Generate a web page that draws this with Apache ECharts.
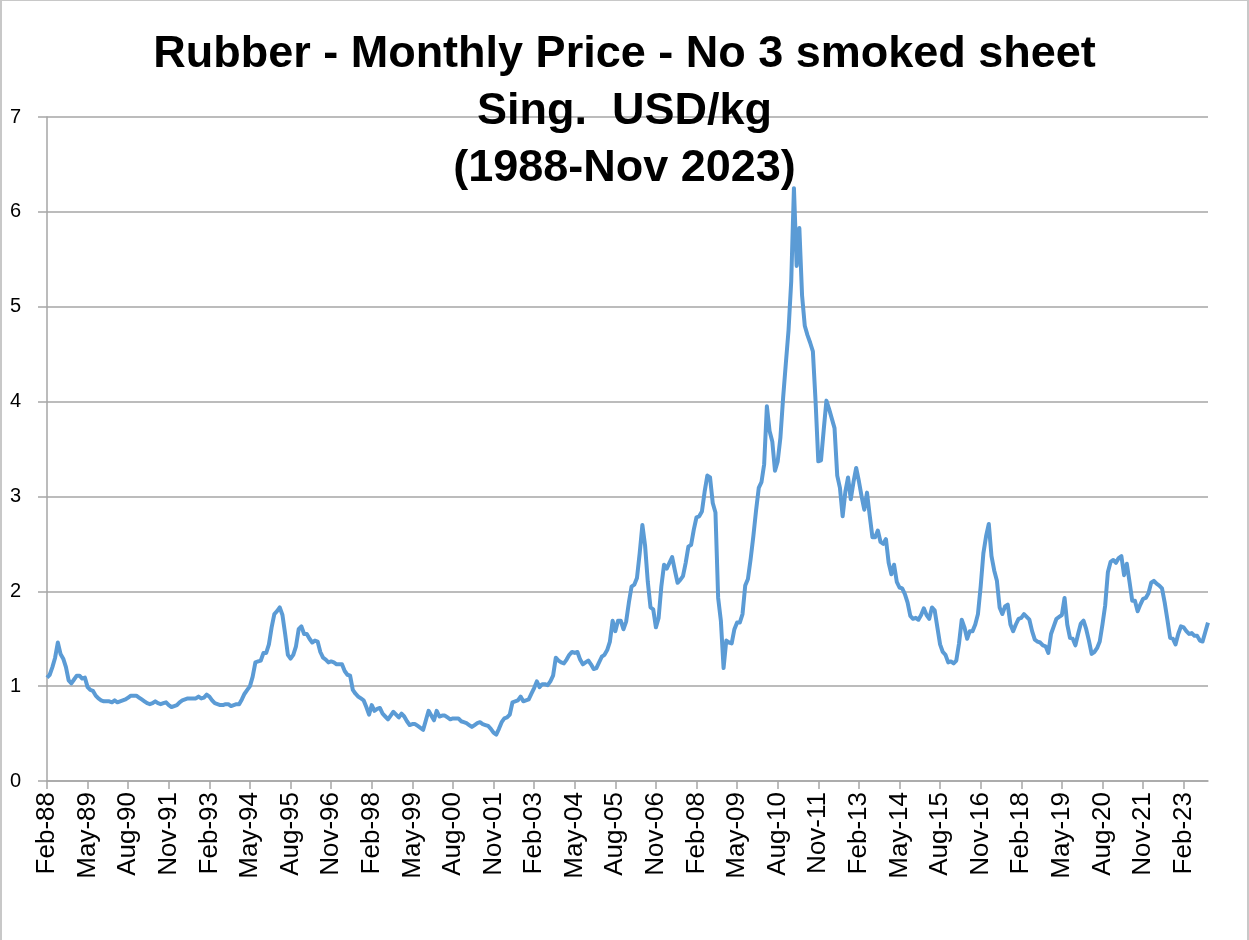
<!DOCTYPE html>
<html>
<head>
<meta charset="utf-8">
<title>Rubber - Monthly Price</title>
<script src="https://cdn.jsdelivr.net/npm/echarts@6/dist/echarts.min.js"></script>
<style>
  html, body { margin: 0; padding: 0; background: #fff; }
  #chart {
    width: 1249px; height: 940px; box-sizing: border-box;
    border-top: 1px solid #c8c8c8; border-left: 2px solid #c8c8c8; border-right: 2px solid #c8c8c8;
  }
</style>
</head>
<body>
<div id="chart"></div>
<script>
// Monthly RSS3 price, USD/kg, Feb-88 .. Nov-23
const price1988to1992 = [
  1.09, 1.12, 1.20, 1.30, 1.46, 1.34, 1.29, 1.20, 1.06, 1.03, 1.07, 1.11,
  1.11, 1.08, 1.09, 0.99, 0.96, 0.95, 0.90, 0.87, 0.85, 0.84, 0.84, 0.84,
  0.83, 0.85, 0.83, 0.84, 0.85, 0.86, 0.88, 0.90, 0.90, 0.90, 0.88, 0.86,
  0.84, 0.82, 0.81, 0.82, 0.84, 0.82, 0.81, 0.82, 0.83, 0.80, 0.78, 0.79,
  0.80, 0.83, 0.85, 0.86, 0.87, 0.87, 0.87, 0.87, 0.89, 0.87, 0.88, 0.91
];
const price1993to1997 = [
  0.89, 0.85, 0.82, 0.81, 0.80, 0.80, 0.81, 0.81, 0.79, 0.80, 0.81, 0.81,
  0.86, 0.92, 0.96, 1.00, 1.10, 1.25, 1.26, 1.27, 1.35, 1.35, 1.44, 1.62,
  1.76, 1.79, 1.83, 1.75, 1.55, 1.33, 1.29, 1.33, 1.42, 1.60, 1.63, 1.55,
  1.55, 1.50, 1.46, 1.48, 1.47, 1.36, 1.30, 1.28, 1.25, 1.26, 1.25, 1.23,
  1.23, 1.23, 1.16, 1.12, 1.11, 0.96, 0.92, 0.89, 0.87, 0.85, 0.78, 0.70
];
const price1998to2002 = [
  0.80, 0.74, 0.76, 0.77, 0.71, 0.68, 0.65, 0.69, 0.73, 0.70, 0.67, 0.71,
  0.68, 0.63, 0.59, 0.60, 0.60, 0.58, 0.56, 0.54, 0.64, 0.74, 0.69, 0.64,
  0.74, 0.68, 0.69, 0.69, 0.67, 0.65, 0.66, 0.66, 0.66, 0.63, 0.62, 0.61,
  0.59, 0.57, 0.59, 0.61, 0.62, 0.60, 0.59, 0.58, 0.55, 0.51, 0.49, 0.55,
  0.62, 0.66, 0.67, 0.70, 0.83, 0.84, 0.85, 0.89, 0.84, 0.85, 0.86, 0.92
];
const price2003to2007 = [
  0.98, 1.05, 0.99, 1.02, 1.02, 1.01, 1.05, 1.11, 1.30, 1.27, 1.25, 1.24,
  1.28, 1.33, 1.36, 1.35, 1.36, 1.28, 1.23, 1.25, 1.27, 1.23, 1.18, 1.19,
  1.25, 1.31, 1.33, 1.38, 1.47, 1.69, 1.58, 1.69, 1.69, 1.60, 1.68, 1.88,
  2.05, 2.07, 2.14, 2.40, 2.70, 2.48, 2.10, 1.83, 1.81, 1.62, 1.72, 2.05,
  2.28, 2.24, 2.30, 2.36, 2.22, 2.09, 2.12, 2.16, 2.30, 2.47, 2.49, 2.65
];
const price2008to2012 = [
  2.78, 2.79, 2.84, 3.05, 3.22, 3.20, 2.93, 2.83, 1.93, 1.69, 1.19, 1.48,
  1.46, 1.45, 1.60, 1.67, 1.67, 1.76, 2.06, 2.13, 2.34, 2.58, 2.85, 3.09,
  3.15, 3.34, 3.95, 3.69, 3.58, 3.27, 3.37, 3.62, 4.04, 4.40, 4.75, 5.27,
  6.25, 5.43, 5.83, 5.12, 4.80, 4.70, 4.62, 4.53, 4.00, 3.37, 3.38, 3.70,
  4.01, 3.92, 3.82, 3.72, 3.22, 3.09, 2.79, 3.05, 3.20, 2.97, 3.15, 3.30
];
const price2013to2017 = [
  3.16, 3.00, 2.86, 3.04, 2.80, 2.57, 2.57, 2.64, 2.52, 2.50, 2.55, 2.30,
  2.18, 2.28, 2.10, 2.04, 2.03, 1.97, 1.88, 1.74, 1.71, 1.72, 1.70, 1.75,
  1.82, 1.75, 1.71, 1.83, 1.80, 1.62, 1.44, 1.36, 1.33, 1.25, 1.26, 1.24,
  1.27, 1.45, 1.70, 1.62, 1.50, 1.58, 1.58, 1.65, 1.76, 2.05, 2.40, 2.58,
  2.71, 2.37, 2.22, 2.11, 1.83, 1.76, 1.84, 1.86, 1.65, 1.58, 1.65, 1.71
];
const price2018to2023 = [
  1.72, 1.76, 1.73, 1.70, 1.58, 1.49, 1.47, 1.46, 1.43, 1.42, 1.35, 1.55,
  1.63, 1.71, 1.73, 1.75, 1.93, 1.65, 1.51, 1.50, 1.43, 1.55, 1.66, 1.69,
  1.60, 1.48, 1.34, 1.36, 1.40, 1.47, 1.65, 1.85, 2.20, 2.31, 2.33, 2.30,
  2.35, 2.37, 2.17, 2.29, 2.10, 1.90, 1.90, 1.79, 1.86, 1.92, 1.93, 1.98,
  2.09, 2.11, 2.08, 2.06, 2.03, 1.88, 1.70, 1.51, 1.50, 1.44, 1.55, 1.63,
  1.62, 1.58, 1.55, 1.56, 1.53, 1.53, 1.48, 1.47, 1.57, 1.67
];

const prices = [].concat(price1988to1992, price1993to1997, price1998to2002,
  price2003to2007, price2008to2012, price2013to2017, price2018to2023);

const monthNames = ['Jan', 'Feb', 'Mar', 'Apr', 'May', 'Jun', 'Jul', 'Aug', 'Sep', 'Oct', 'Nov', 'Dec'];

// category labels: Feb-88 onwards, one per data point
const months = prices.map((_, i) => {
  const m = (1 + i) % 12;
  const y = 1988 + Math.floor((1 + i) / 12);
  return monthNames[m] + '-' + String(y % 100).padStart(2, '0');
});

const chart = echarts.init(document.getElementById('chart'));

chart.setOption({
  animation: false,
  title: {
    text: 'Rubber - Monthly Price - No 3 smoked sheet\nSing.  USD/kg\n(1988-Nov 2023)',
    left: 'center',
    top: 20,
    textStyle: {
      fontFamily: 'Liberation Sans, Arial, sans-serif',
      fontSize: 45,
      fontWeight: 'bold',
      color: '#000',
      lineHeight: 57
    }
  },
  grid: {
    left: 45,
    right: 39,
    top: 116,
    bottom: 159
  },
  xAxis: {
    type: 'category',
    data: months,
    boundaryGap: false,
    axisLine: { lineStyle: { color: '#a6a6a6', width: 1.5 } },
    axisTick: { show: true, interval: 14, length: 8, lineStyle: { color: '#a6a6a6', width: 1.5 } },
    axisLabel: {
      interval: 14,
      rotate: 90,
      margin: 11,
      fontFamily: 'Liberation Sans, Arial, sans-serif',
      fontSize: 26,
      color: '#000'
    },
    splitLine: { show: false }
  },
  yAxis: {
    type: 'value',
    min: 0,
    max: 7,
    interval: 1,
    axisLine: { show: true, lineStyle: { color: '#a6a6a6', width: 1.5 } },
    axisTick: { show: true, length: 9, lineStyle: { color: '#a6a6a6', width: 1.5 } },
    axisLabel: {
      margin: 26,
      fontFamily: 'Liberation Sans, Arial, sans-serif',
      fontSize: 20,
      color: '#000'
    },
    splitLine: { lineStyle: { color: '#a6a6a6', width: 1.5 } }
  },
  series: [{
    name: 'RSS3',
    type: 'line',
    data: prices,
    showSymbol: false,
    smooth: false,
    lineStyle: { color: '#5b9bd5', width: 4, join: 'round' }
  }]
});
</script>
</body>
</html>
